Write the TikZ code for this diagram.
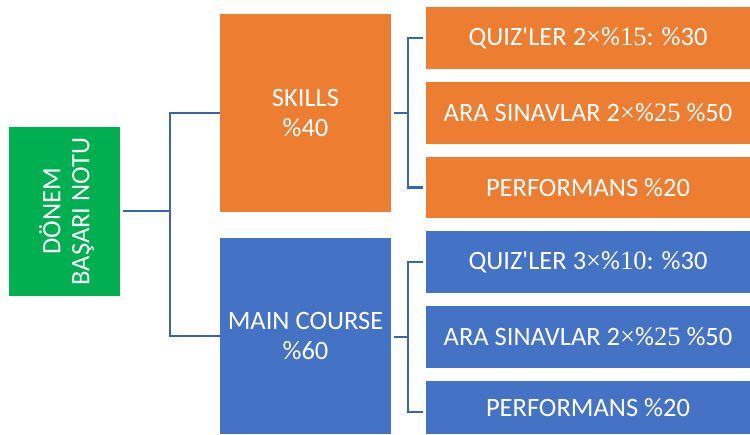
\documentclass[tikz,border=0pt]{standalone}
\usepackage{fontspec}
\setmainfont{Carlito}
\newfontfamily\serifnum{Liberation Serif}
\definecolor{ogreen}{HTML}{00B050}
\definecolor{oorange}{HTML}{ED7D31}
\definecolor{oblue}{HTML}{4472C4}
\definecolor{lineblue}{HTML}{3B64AE}
\newcommand{\tms}{{\serifnum\texttimes}}
\newcommand{\sn}[1]{{\serifnum #1}}
\newcommand{\ap}{\textquotesingle}
\begin{document}
\begin{tikzpicture}[x=1pt,y=-1pt,
  box/.style={inner sep=0pt, outer sep=0pt, text=white, align=center, font=\fontsize{26.5}{30}\selectfont},
  conn/.style={draw=lineblue, line width=2.8pt}]
\useasboundingbox (0,0) rectangle (750,434);
% root
\node[box, fill=ogreen, minimum width=111pt, minimum height=169pt] (root) at (64.5,211.5) {};
\node[box, rotate=90, font=\fontsize{26.5}{29}\selectfont] (roottxt) at ([xshift=2pt]root.center) {DÖNEM\\BAŞARI NOTU};
% mid
\node[box, fill=oorange, minimum width=171pt, minimum height=198pt] (skills) at (305.5,113) {SKILLS\\\%40};
\node[box, fill=oblue, minimum width=171pt, minimum height=196pt] (main) at (305.5,336) {MAIN COURSE\\\%60};
% top leaves
\node[box, fill=oorange, minimum width=324pt, minimum height=62pt] (s1) at (588,38) {QUIZ\ap LER 2\tms\%\sn{15}: \%30};
\node[box, fill=oorange, minimum width=324pt, minimum height=62pt] (s2) at (588,113) {ARA SINAVLAR 2\tms\%\sn{25} \%50};
\node[box, fill=oorange, minimum width=324pt, minimum height=61pt] (s3) at (588,187.5) {PERFORMANS \%20};
% bottom leaves
\node[box, fill=oblue, minimum width=324pt, minimum height=62pt] (m1) at (588,262) {QUIZ\ap LER 3\tms\%\sn{10}: \%30};
\node[box, fill=oblue, minimum width=324pt, minimum height=62pt] (m2) at (588,337) {ARA SINAVLAR 2\tms\%\sn{25} \%50};
\node[box, fill=oblue, minimum width=324pt, minimum height=53pt] (m3) at (588,407.5) {\raisebox{-4pt}{PERFORMANS \%20}};
% connectors
\coordinate (rj) at (170,211);
\draw[conn] ([xshift=3pt]root.east|-rj) -- (rj);
\draw[conn] (skills.west) -| (rj) |- (main.west);
\coordinate (sj) at (408,113);
\draw[conn] ([xshift=3pt]skills.east) -- (sj);
\draw[conn] ([xshift=-3pt]s1.west) -| (sj) |- ([xshift=-3pt]s3.west);
\coordinate (mj) at (408,337);
\draw[conn] ([xshift=3pt]main.east|-mj) -- (mj);
\draw[conn] ([xshift=-3pt]m1.west) -| (mj) |- ([xshift=-3pt]m3.west|-0,412);
\end{tikzpicture}
\end{document}
